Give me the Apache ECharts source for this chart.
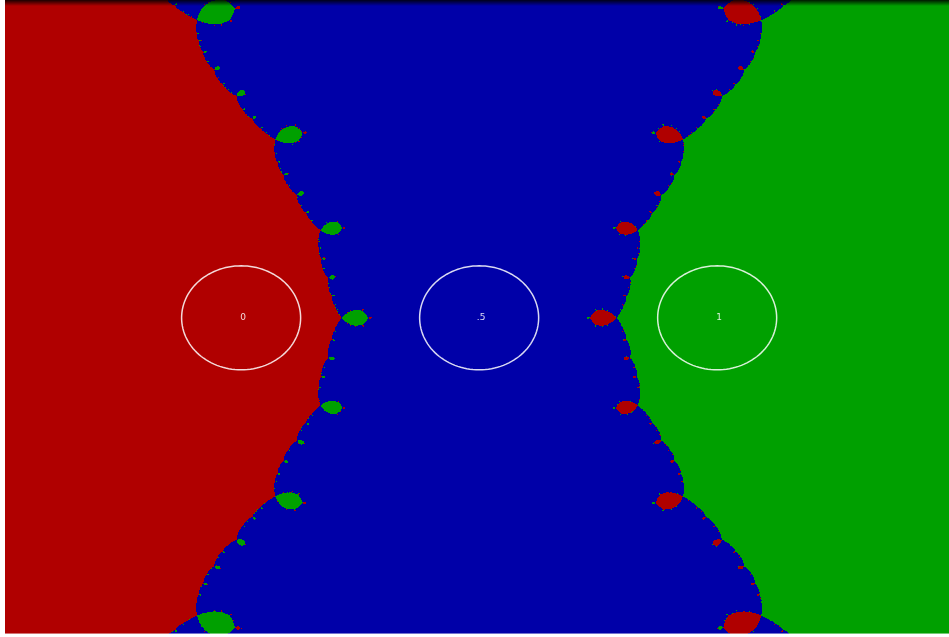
<!DOCTYPE html>
<html>
<head>
<meta charset="utf-8">
<title>Newton basins for z(z - 0.5)(z - 1)</title>
<script src="https://cdn.jsdelivr.net/npm/echarts@6/dist/echarts.min.js"></script>
<style>
  html, body { margin: 0; padding: 0; background: #ffffff; }
  #chart { width: 949px; height: 637px; }
</style>
</head>
<body>
<div id="chart"></div>
<script>
// Roots of the polynomial (complex: [re, im]) and how each is labelled
const roots = [[0, 0], [0.5, 0], [1, 0]];
const rootLabels = ['0', '.5', '1'];
// Basin colour for each root
const basinColors = ['#b00000', '#0000a8', '#00a000'];
// Radius of the marker circle drawn round every root
const circleRadius = 0.125;
// Visible window of the complex plane
const reRange = [-0.496, 1.487];
const imRange = [-0.760, 0.764];

const GRID = { left: 5, right: 0, top: 0, bottom: 3 };
const NX = 949 - GRID.left - GRID.right;
const NY = 637 - GRID.top - GRID.bottom;

// Newton iteration: z <- z - p/p', with p'/p = sum 1/(z - r_k)
function basinOf(x, y) {
  let zr = x, zi = y;
  for (let it = 0; it < 120; it++) {
    let sr = 0, si = 0;
    for (let k = 0; k < roots.length; k++) {
      const dr = zr - roots[k][0], di = zi - roots[k][1];
      const m = dr * dr + di * di;
      if (m < 1e-12) return k;
      sr += dr / m;
      si -= di / m;
    }
    const sm = sr * sr + si * si;
    if (sm === 0) break;
    zr -= sr / sm;
    zi += si / sm;
  }
  let best = 0, bestD = Infinity;
  for (let k = 0; k < roots.length; k++) {
    const dr = zr - roots[k][0], di = zi - roots[k][1];
    const d = dr * dr + di * di;
    if (d < bestD) { bestD = d; best = k; }
  }
  return best;
}

// Sample the plane row by row and merge equal neighbours into runs
const dx = (reRange[1] - reRange[0]) / NX;
const dy = (imRange[1] - imRange[0]) / NY;
const runs = [];
for (let j = 0; j < NY; j++) {
  const yTop = imRange[1] - j * dy;
  const yBot = yTop - dy;
  const yc = yTop - dy / 2;
  let start = 0, cur = basinOf(reRange[0] + dx / 2, yc);
  for (let i = 1; i <= NX; i++) {
    const k = i < NX ? basinOf(reRange[0] + (i + 0.5) * dx, yc) : -1;
    if (k !== cur) {
      runs.push([reRange[0] + start * dx, reRange[0] + i * dx, yBot, yTop, cur]);
      start = i;
      cur = k;
    }
  }
}

const markers = roots.map((r, k) => [r[0], r[1], circleRadius, k]);

const chart = echarts.init(document.getElementById('chart'), null, { renderer: 'canvas' });
chart.setOption({
  animation: false,
  backgroundColor: '#ffffff',
  grid: { left: GRID.left, right: GRID.right, top: GRID.top, bottom: GRID.bottom },
  xAxis: { type: 'value', min: reRange[0], max: reRange[1], show: false },
  yAxis: { type: 'value', min: imRange[0], max: imRange[1], show: false },
  series: [
    {
      type: 'custom',
      silent: true,
      progressive: 0,
      clip: true,
      data: runs,
      dimensions: ['x0', 'x1', 'y0', 'y1', 'root'],
      encode: { x: [0, 1], y: [2, 3] },
      renderItem: function (params, api) {
        const a = api.coord([api.value(0), api.value(3)]);
        const b = api.coord([api.value(1), api.value(2)]);
        const x = Math.round(a[0]), y = Math.round(a[1]);
        return {
          type: 'rect',
          shape: { x: x, y: y, width: Math.round(b[0]) - x + 0.5, height: Math.round(b[1]) - y + 0.5 },
          style: { fill: basinColors[api.value(4)] }
        };
      }
    },
    {
      type: 'custom',
      silent: true,
      data: markers,
      encode: { x: 0, y: 1 },
      z: 5,
      renderItem: function (params, api) {
        const cx = api.value(0), cy = api.value(1), r = api.value(2);
        const pts = [];
        for (let t = 0; t < 120; t++) {
          const ang = (t / 120) * Math.PI * 2;
          pts.push(api.coord([cx + r * Math.cos(ang), cy + r * Math.sin(ang)]));
        }
        const c = api.coord([cx, cy]);
        return {
          type: 'group',
          children: [
            {
              type: 'polygon',
              shape: { points: pts },
              style: { fill: 'none', stroke: 'rgba(255,255,255,0.85)', lineWidth: 1.5 }
            },
            {
              type: 'text',
              x: c[0] + 2,
              y: c[1],
              style: {
                text: rootLabels[api.value(3)],
                fill: 'rgba(255,255,255,0.85)',
                font: '9px "DejaVu Sans", sans-serif',
                align: 'center',
                verticalAlign: 'middle'
              }
            }
          ]
        };
      }
    }
  ],
  graphic: [
    {
      type: 'rect',
      left: GRID.left, top: 0, silent: true, z: 100,
      shape: { width: NX, height: 6 },
      style: {
        fill: new echarts.graphic.LinearGradient(0, 0, 0, 1, [
          { offset: 0, color: 'rgba(0,0,0,0.85)' },
          { offset: 1, color: 'rgba(0,0,0,0)' }
        ])
      }
    },
    {
      type: 'rect',
      left: GRID.left, top: 637 - GRID.bottom - 1, silent: true, z: 100,
      shape: { width: NX, height: GRID.bottom + 1 },
      style: { fill: 'rgba(255,255,255,0.45)' }
    }
  ]
});
</script>
</body>
</html>
